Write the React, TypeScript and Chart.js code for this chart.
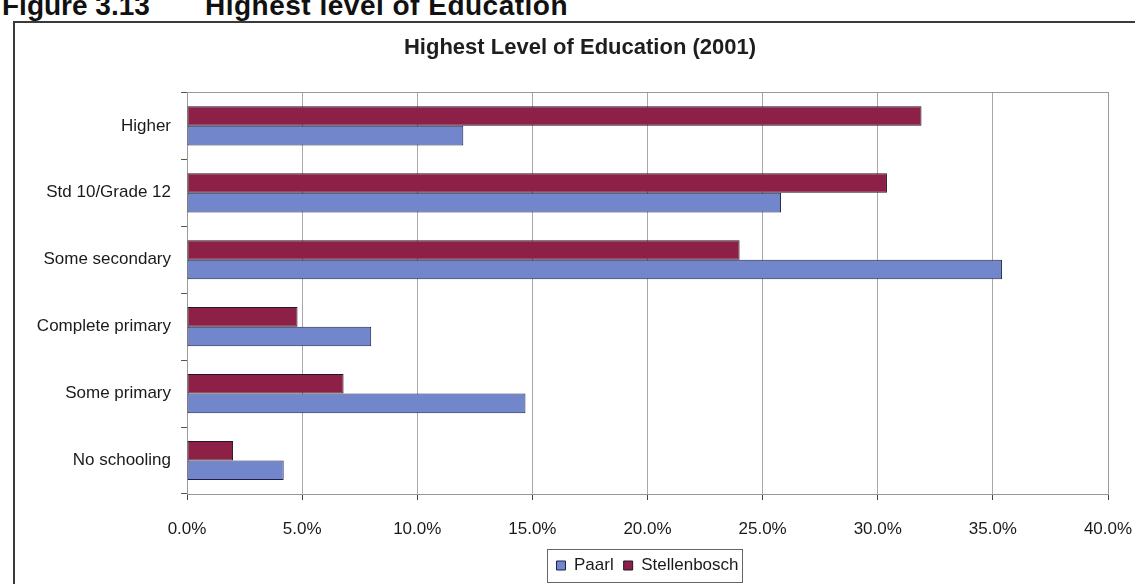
import React, { useEffect, useRef } from "react";
import { Chart, registerables } from "chart.js";

Chart.register(...registerables);

const categories = [
  "Higher",
  "Std 10/Grade 12",
  "Some secondary",
  "Complete primary",
  "Some primary",
  "No schooling",
];
const paarl = [12.0, 25.8, 35.4, 8.0, 14.7, 4.2];
const stellenbosch = [31.9, 30.4, 24.0, 4.8, 6.8, 2.0];
const seriesNames = ["Paarl", "Stellenbosch"];
const xTicks = [0, 5, 10, 15, 20, 25, 30, 35, 40];
const chartTitle = "Highest Level of Education (2001)";
const captionNumber = "Figure 3.13";
const captionText = "Highest level of Education";

const FONT = '"Liberation Sans", Arial, Helvetica, sans-serif';

const plotBorder = {
  id: "plotBorder",
  beforeDatasetsDraw(chart: any) {
    const { ctx, chartArea } = chart;
    ctx.save();
    ctx.strokeStyle = "#9a9a9a";
    ctx.lineWidth = 1;
    ctx.strokeRect(
      Math.round(chartArea.left) + 0.5,
      Math.round(chartArea.top) + 0.5,
      Math.round(chartArea.right - chartArea.left),
      Math.round(chartArea.bottom - chartArea.top)
    );
    ctx.restore();
  },
};

// shift the title's centring box so it sits where the original title is
const titleShift = {
  id: "titleShift",
  afterLayout(chart: any) {
    if (chart.titleBlock) chart.titleBlock.left += 38;
  },
};

const legendBox = {
  id: "legendBox",
  afterDraw(chart: any) {
    const lg = chart.legend;
    if (!lg || !lg.legendHitBoxes || !lg.legendHitBoxes.length) return;
    const hb = lg.legendHitBoxes;
    let l = Infinity, r = -Infinity, t = Infinity, b = -Infinity;
    for (const h of hb) {
      l = Math.min(l, h.left);
      r = Math.max(r, h.left + h.width);
      t = Math.min(t, h.top);
      b = Math.max(b, h.top + h.height);
    }
    const { ctx } = chart;
    ctx.save();
    ctx.strokeStyle = "#666";
    ctx.lineWidth = 1;
    ctx.strokeRect(Math.round(l - 9) + 0.5, Math.round(t - 8) + 0.5, Math.round(r - l + 13), Math.round(b - t + 16));
    ctx.restore();
  },
};

export default function App() {
  const ref = useRef<HTMLCanvasElement | null>(null);

  useEffect(() => {
    if (!ref.current) return;
    Chart.defaults.font.family = FONT;
    const chart = new Chart(ref.current, {
      type: "bar",
      data: {
        labels: categories,
        datasets: [
          {
            label: seriesNames[1],
            data: stellenbosch,
            backgroundColor: "#8c2046",
            borderColor: "#24152a",
            borderWidth: 1,
            borderSkipped: false,
          },
          {
            label: seriesNames[0],
            data: paarl,
            backgroundColor: "#7186cb",
            borderColor: "#1e2048",
            borderWidth: 1,
            borderSkipped: false,
          },
        ],
      },
      options: {
        indexAxis: "y",
        responsive: false,
        animation: false,
        layout: { padding: { top: 0, right: 27, bottom: 0, left: 14 } },
        datasets: {
          bar: { categoryPercentage: 0.585, barPercentage: 1.0 },
        },
        scales: {
          x: {
            type: "linear",
            min: 0,
            max: 40,
            afterBuildTicks(scale: any) {
              scale.ticks = xTicks.map((v) => ({ value: v }));
            },
            afterFit(scale: any) {
              scale.height = 53;
              scale.paddingLeft = 0;
              scale.paddingRight = 0;
            },
            ticks: {
              stepSize: 5,
              padding: 19,
              color: "#1a1a1a",
              font: { size: 17 },
              callback: (v: any) => Number(v).toFixed(1) + "%",
            },
            grid: {
              color: "#a8a8a8",
              tickColor: "#444",
              tickLength: 6,
            },
            border: { display: true, color: "#444", width: 1 },
          },
          y: {
            type: "category",
            afterFit(scale: any) {
              scale.width = 173;
            },
            ticks: {
              color: "#1a1a1a",
              font: { size: 17 },
              padding: 10,
            },
            grid: {
              display: true,
              drawOnChartArea: false,
              drawTicks: true,
              tickLength: 6,
              offset: true,
              color: "#555",
              tickColor: "#555",
            },
            border: { display: true, color: "#444", width: 1 },
          },
        },
        plugins: {
          title: {
            display: true,
            text: chartTitle,
            color: "#1e1e1e",
            font: { size: 22, weight: "bold" },
            padding: { top: 35, bottom: 31 },
          },
          legend: {
            position: "bottom",
            fullSize: false,
            reverse: true,
            labels: {
              boxWidth: 9,
              boxHeight: 9,
              padding: 10,
              color: "#1a1a1a",
              font: { size: 17 },
            },
          },
          tooltip: { enabled: false },
        },
      },
      plugins: [plotBorder, titleShift, legendBox],
    } as any);
    return () => chart.destroy();
  }, []);

  const capStyle: React.CSSProperties = {
    position: "absolute",
    top: -8,
    fontSize: 28,
    lineHeight: "28px",
    fontWeight: "bold",
    color: "#111",
    whiteSpace: "nowrap",
  };

  return (
    <div
      style={{
        position: "fixed",
        left: 0,
        top: 0,
        width: 1135,
        height: 584,
        overflow: "hidden",
        background: "#fff",
        fontFamily: FONT,
      }}
    >
      <div
        style={{
          position: "absolute",
          left: 13,
          top: 21,
          width: 1200,
          height: 700,
          borderLeft: "2px solid #3a3a3a",
          borderTop: "2px solid #3a3a3a",
        }}
      />
      <span style={{ ...capStyle, left: 2 }}>{captionNumber}</span>
      <span style={{ ...capStyle, left: 205, letterSpacing: 0.5 }}>{captionText}</span>
      <canvas
        ref={ref}
        width={1135}
        height={584}
        style={{ position: "absolute", left: 0, top: 0, width: 1135, height: 584 }}
      />
    </div>
  );
}
